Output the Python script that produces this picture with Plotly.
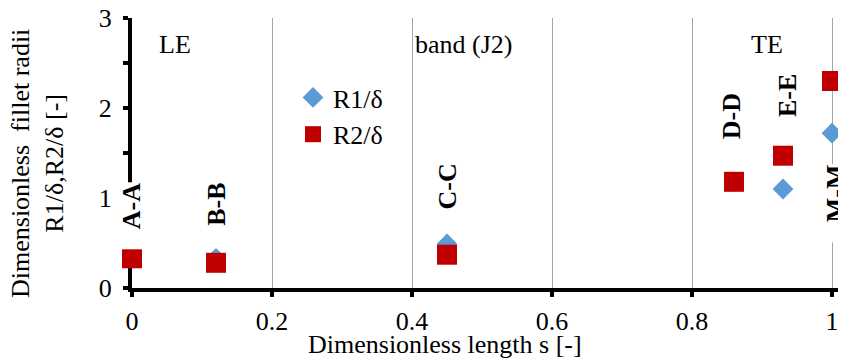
import plotly.graph_objects as go

# ---- data ----
s_pos = [0.0, 0.12, 0.45, 0.86, 0.93, 1.0]
r1_vals = [0.35, 0.33, 0.49, 1.18, 1.10, 1.72]
r2_vals = [0.33, 0.28, 0.37, 1.18, 1.47, 2.30]
section_labels = ["A-A", "B-B", "C-C", "D-D", "E-E", "M-M"]
label_tops = [1.18, 1.18, 1.40, 2.18, 2.39, 1.38]
label_x = [0.0, 0.12, 0.45, 0.857, 0.936, 1.005]
region_names = ["LE", "band (J2)", "TE"]
region_x = [0.061, 0.473, 0.907]
region_y = [2.71, 2.71, 2.71]
x_ticks = [0, 0.2, 0.4, 0.6, 0.8, 1]
x_tick_text = ["0", "0.2", "0.4", "0.6", "0.8", "1"]
y_ticks = [0, 1, 2, 3]

FONT = "Liberation Serif, Times New Roman, serif"
NB = "\u00a0"

# page body has an 8px margin; compensate so the screenshot lines up
OFF = 8
W, H = 846 - OFF, 361 - OFF
L, R, T, B = 132 - OFF, 0, 18 - OFF, 361 - 288
pw, ph = W - L - R, H - T - B


def px_to_paper_x(px):
    return (px - OFF - L) / pw


def px_to_paper_y(py):
    return (H - B - (py - OFF)) / ph


fig = go.Figure()
fig.add_trace(go.Scatter(
    x=s_pos, y=r1_vals, mode="markers", name="R1/δ",
    marker=dict(symbol="diamond", size=16, color="#5B9BD5"),
    cliponaxis=False))
fig.add_trace(go.Scatter(
    x=s_pos, y=r2_vals, mode="markers", name="R2/δ",
    marker=dict(symbol="square", size=20, color="#C00000"),
    cliponaxis=False))

annotations = []
for lx, ly, lab in zip(label_x, label_tops, section_labels):
    annotations.append(dict(
        x=lx, y=ly, xref="x", yref="y", text=NB * 3 + "<b>" + lab + "</b>",
        textangle=-90, showarrow=False, xanchor="center", yanchor="top",
        bgcolor="white", borderpad=0,
        font=dict(family=FONT, size=26, color="black")))
for rx, ry, rn in zip(region_x, region_y, region_names):
    annotations.append(dict(
        x=rx, y=ry, xref="x", yref="y", text=rn, showarrow=False,
        xanchor="center", yanchor="middle", bgcolor="white", borderpad=0,
        font=dict(family=FONT, size=26, color="black")))
# axis titles
annotations.append(dict(
    x=px_to_paper_x(445), y=px_to_paper_y(344), xref="paper", yref="paper",
    xanchor="center", yanchor="middle",
    text="Dimensionless length s [-]", showarrow=False,
    font=dict(family=FONT, size=26, color="black")))
annotations.append(dict(
    text="Dimensionless  fillet radii<br>R1/δ,R2/δ [-]", textangle=-90,
    showarrow=False, font=dict(family=FONT, size=26, color="black"),
    xref="paper", yref="paper", xanchor="center", yanchor="middle",
    x=px_to_paper_x(37), y=px_to_paper_y(164)))

fig.update_layout(
    width=W, height=H,
    margin=dict(l=L, r=R, t=T, b=B, autoexpand=False),
    paper_bgcolor="white", plot_bgcolor="white",
    font=dict(family=FONT, size=26, color="black"),
    showlegend=True,
    legend=dict(x=px_to_paper_x(293), y=px_to_paper_y(74), xanchor="left",
                yanchor="top", bgcolor="rgba(0,0,0,0)",
                font=dict(family=FONT, size=26, color="black"),
                itemwidth=30, tracegroupgap=0),
    annotations=annotations,
)
fig.update_xaxes(
    range=[0, 1.02], tickvals=x_ticks, ticktext=x_tick_text,
    showgrid=True, gridcolor="#A6A6A6", gridwidth=1,
    showline=True, linecolor="black", linewidth=4,
    ticks="outside", ticklen=5, tickwidth=4, tickcolor="black",
    zeroline=False, layer="below traces", ticklabelstandoff=2,
    automargin=False, ticklabeloverflow="allow",
    tickfont=dict(family=FONT, size=26, color="black"))
fig.update_yaxes(
    range=[0, 3], tickvals=y_ticks, showgrid=False,
    showline=True, linecolor="black", linewidth=4,
    ticks="outside", ticklen=5, tickwidth=4, tickcolor="black",
    minor=dict(dtick=0.5, ticks="outside", ticklen=5, tickwidth=4,
               tickcolor="black", showgrid=False),
    zeroline=False, layer="below traces", ticklabelstandoff=6,
    automargin=False, ticklabeloverflow="allow",
    tickfont=dict(family=FONT, size=26, color="black"))

fig.write_html("out.html")
